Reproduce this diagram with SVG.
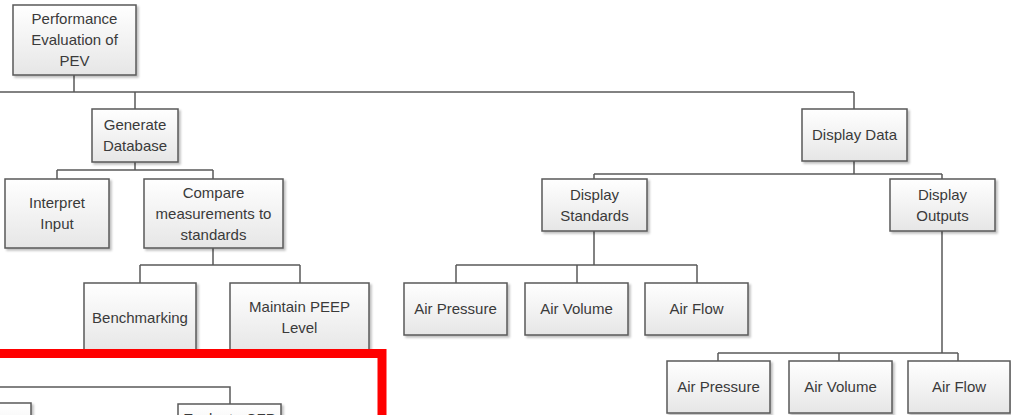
<svg xmlns="http://www.w3.org/2000/svg" width="1011" height="415" viewBox="0 0 1011 415">
<defs>
<linearGradient id="g" x1="0" y1="0" x2="0" y2="1">
<stop offset="0" stop-color="#ffffff"/>
<stop offset="1" stop-color="#e6e6e6"/>
</linearGradient>
<filter id="sh" x="-10%" y="-10%" width="130%" height="130%">
<feDropShadow dx="2" dy="2" stdDeviation="1.2" flood-color="#000" flood-opacity="0.25"/>
</filter>
<style>
.box{fill:url(#g);stroke:#595959;stroke-width:1.5;filter:url(#sh)}
.t{font-family:"Liberation Sans",Arial,sans-serif;font-size:15px;fill:#3a3a3a;text-anchor:middle}
.c{fill:none;stroke:#595959;stroke-width:1.5}
</style>
</defs>
<rect width="1011" height="415" fill="#ffffff"/>
<g id="connectors">
<path class="c" d="M74 75V92M0 92H854M135 92V109M854 92V109"/>
<path class="c" d="M135 162V170M57 170H213M57 170V179M213 170V179"/>
<path class="c" d="M213 248V265M140 265H300M140 265V283M300 265V283"/>
<path class="c" d="M854 161V174M594 174H942M594 174V179M942 174V179"/>
<path class="c" d="M594 231V265M456 265H697M456 265V283M577 265V283M697 265V283"/>
<path class="c" d="M942 231V353M718 353H958M718 353V361M839 353V361M958 353V361"/>
<path class="c" d="M0 387H230V404"/>
</g>
<g id="n-root"><rect class="box" x="13" y="5" width="123" height="70"/><text class="t" x="74.5" y="24">Performance</text><text class="t" x="74.5" y="45">Evaluation of</text><text class="t" x="74.5" y="66">PEV</text></g>
<g id="n-gendb"><rect class="box" x="92" y="109" width="86" height="53"/><text class="t" x="135" y="130">Generate</text><text class="t" x="135" y="151">Database</text></g>
<g id="n-interp"><rect class="box" x="5" y="179" width="104" height="69"/><text class="t" x="57" y="208">Interpret</text><text class="t" x="57" y="229">Input</text></g>
<g id="n-compare"><rect class="box" x="144" y="179" width="139" height="69"/><text class="t" x="213.5" y="197.5">Compare</text><text class="t" x="213.5" y="218.5">measurements to</text><text class="t" x="213.5" y="239.5">standards</text></g>
<g id="n-bench"><rect class="box" x="84" y="283" width="112" height="69"/><text class="t" x="140" y="322.5">Benchmarking</text></g>
<g id="n-peep"><rect class="box" x="230" y="283" width="139" height="69"/><text class="t" x="299.5" y="312">Maintain PEEP</text><text class="t" x="299.5" y="333">Level</text></g>
<g id="n-dispdata"><rect class="box" x="802" y="109" width="105" height="52"/><text class="t" x="854.5" y="140">Display Data</text></g>
<g id="n-dispstd"><rect class="box" x="542" y="179" width="105" height="52"/><text class="t" x="594.5" y="200">Display</text><text class="t" x="594.5" y="221">Standards</text></g>
<g id="n-dispout"><rect class="box" x="890" y="179" width="105" height="52"/><text class="t" x="942.5" y="200">Display</text><text class="t" x="942.5" y="221">Outputs</text></g>
<g id="n-ap1"><rect class="box" x="404" y="283" width="103" height="52"/><text class="t" x="455.5" y="314">Air Pressure</text></g>
<g id="n-av1"><rect class="box" x="525" y="283" width="103" height="52"/><text class="t" x="576.5" y="314">Air Volume</text></g>
<g id="n-af1"><rect class="box" x="645" y="283" width="103" height="52"/><text class="t" x="696.5" y="314">Air Flow</text></g>
<g id="n-ap2"><rect class="box" x="667" y="361" width="103" height="52"/><text class="t" x="718.5" y="392">Air Pressure</text></g>
<g id="n-av2"><rect class="box" x="789" y="361" width="103" height="52"/><text class="t" x="840.5" y="392">Air Volume</text></g>
<g id="n-af2"><rect class="box" x="908" y="361" width="102" height="52"/><text class="t" x="959" y="392">Air Flow</text></g>
<g id="n-left-partial"><rect class="box" x="-80" y="403" width="111" height="60"/></g>
<g id="n-cfp"><rect class="box" x="178" y="404" width="103" height="60"/><text class="t" x="229.5" y="424">Evaluate CFP</text></g>
<g id="highlight"><path d="M0 353.5H382M382 349V415" fill="none" stroke="#ff0000" stroke-width="9"/></g>
</svg>
